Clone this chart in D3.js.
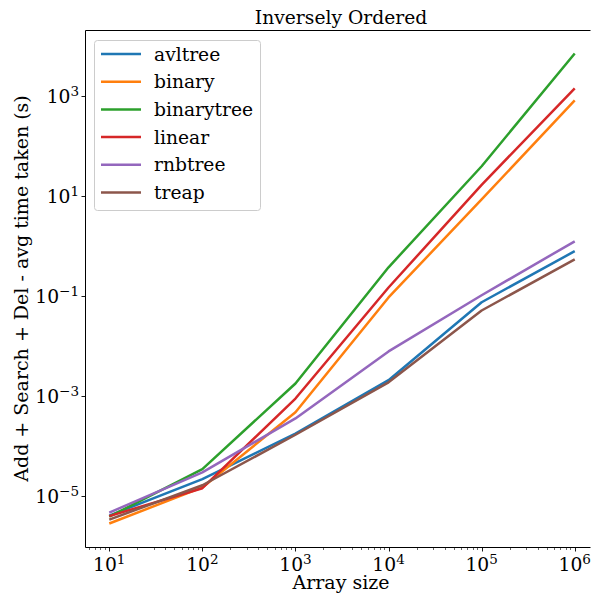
<!DOCTYPE html>
<html>
<head>
<meta charset="utf-8">
<script src="https://cdnjs.cloudflare.com/ajax/libs/d3/7.8.5/d3.min.js"></script>
<style>
  html, body { margin: 0; padding: 0; background: #fff; overflow: hidden; }
  svg { display: block; overflow: hidden; }
  text { font-family: "DejaVu Serif", serif; fill: #000; }
</style>
</head>
<body>
<div id="chart"></div>
<script>
// array sizes on the x axis
var sizes = [10, 100, 1000, 10000, 100000, 1000000];

// avg time taken (s) per structure
var avltree    = [4.1e-6, 2.2e-5, 1.8e-4, 2.1e-3, 0.076, 0.80];
var binary     = [2.85e-6, 1.5e-5, 4.8e-4, 0.095, 8.7, 830];
var binarytree = [3.9e-6, 3.5e-5, 1.8e-3, 0.38, 40, 7200];
var linear     = [4.0e-6, 1.45e-5, 9.0e-4, 0.15, 17, 1450];
var rnbtree    = [4.7e-6, 3.0e-5, 3.6e-4, 7.9e-3, 0.105, 1.26];
var treap      = [3.4e-6, 1.66e-5, 1.7e-4, 1.9e-3, 0.052, 0.55];

var seriesNames = ["avltree", "binary", "binarytree", "linear", "rnbtree", "treap"];
var seriesValues = [avltree, binary, binarytree, linear, rnbtree, treap];
var colors = ["#1f77b4", "#ff7f0e", "#2ca02c", "#d62728", "#9467bd", "#8c564b"];

var yTickValues = [1e-5, 1e-3, 1e-1, 1e1, 1e3];

var W = 591, H = 593;
// plot box (note: "top" is reserved on window, so use other names)
var pLeft = 86, pTop = 30, pRight = 598, pBottom = 547;

var svg = d3.select("#chart")
  .append("svg")
  .attr("width", W)
  .attr("height", H);

// log-space padding, like matplotlib's 5% margins
function padLog(lo, hi) {
  var a = Math.log10(lo), b = Math.log10(hi), m = (b - a) * 0.05;
  return [Math.pow(10, a - m), Math.pow(10, b + m)];
}

var allVals = d3.merge(seriesValues);
var x = d3.scaleLog()
  .domain(padLog(d3.min(sizes), d3.max(sizes)))
  .range([pLeft, pRight]);
var y = d3.scaleLog()
  .domain(padLog(d3.min(allVals), d3.max(allVals)))
  .range([pBottom, pTop]);

// lines
var line = d3.line()
  .x(function(d) { return x(d[0]); })
  .y(function(d) { return y(d[1]); });

var lineData = seriesValues.map(function(vals) {
  return sizes.map(function(s, i) { return [s, vals[i]]; });
});

svg.append("g")
  .selectAll("path")
  .data(lineData)
  .enter()
  .append("path")
  .attr("d", line)
  .attr("fill", "none")
  .attr("stroke", function(d, i) { return colors[i]; })
  .attr("stroke-width", 2.5)
  .attr("stroke-linejoin", "round");

// spines: top, left, bottom (right one is cut off in the original)
var spines = [
  [pLeft, pTop, W, pTop],
  [pLeft, pTop, pLeft, pBottom],
  [pLeft, pBottom, W, pBottom]
];
svg.append("g")
  .selectAll("line")
  .data(spines)
  .enter()
  .append("line")
  .attr("x1", function(d) { return d[0] - 0.5; })
  .attr("y1", function(d) { return d[1] + 0.5; })
  .attr("x2", function(d) { return d[2] - 0.5; })
  .attr("y2", function(d) { return d[3] + 0.5; })
  .attr("stroke", "#000")
  .attr("stroke-width", 1);

function isMajor(v) {
  var l = Math.log10(v);
  return Math.abs(l - Math.round(l)) < 1e-9;
}

function expText(d) {
  return String(Math.round(Math.log10(d))).replace("-", "\u2212");
}

// x ticks
var xTicks = x.ticks().filter(function(v) { return v >= x.domain()[0] && x(v) < W; });
var gx = svg.append("g");
gx.selectAll("line")
  .data(xTicks)
  .enter()
  .append("line")
  .attr("x1", function(d) { return Math.round(x(d)) + 0.5; })
  .attr("x2", function(d) { return Math.round(x(d)) + 0.5; })
  .attr("y1", pBottom + 1)
  .attr("y2", function(d) { return pBottom + 1 + (isMajor(d) ? 3.5 : 2); })
  .attr("stroke", "#000")
  .attr("stroke-width", function(d) { return isMajor(d) ? 0.9 : 0.6; });

var xLabels = gx.selectAll("text")
  .data(xTicks.filter(isMajor))
  .enter()
  .append("text")
  .attr("x", function(d) { return x(d); })
  .attr("y", 571)
  .attr("text-anchor", "middle")
  .style("font-size", "18.7px");
xLabels.append("tspan").text("10");
xLabels.append("tspan")
  .attr("dy", -7.5)
  .style("font-size", "13.5px")
  .text(expText);

// y ticks
var gy = svg.append("g");
gy.selectAll("line")
  .data(yTickValues)
  .enter()
  .append("line")
  .attr("x1", pLeft - 4.5)
  .attr("x2", pLeft - 1)
  .attr("y1", function(d) { return Math.round(y(d)) + 0.5; })
  .attr("y2", function(d) { return Math.round(y(d)) + 0.5; })
  .attr("stroke", "#000")
  .attr("stroke-width", 0.9);

var yLabels = gy.selectAll("text")
  .data(yTickValues)
  .enter()
  .append("text")
  .attr("x", pLeft - 7)
  .attr("y", function(d) { return y(d) + 7; })
  .attr("text-anchor", "end")
  .style("font-size", "18.7px");
yLabels.append("tspan").text("10");
yLabels.append("tspan")
  .attr("dy", -7.5)
  .style("font-size", "13.5px")
  .text(expText);

// title and axis labels
svg.append("text")
  .attr("x", 341)
  .attr("y", 24)
  .attr("text-anchor", "middle")
  .style("font-size", "18.7px")
  .text("Inversely Ordered");

svg.append("text")
  .attr("x", 341)
  .attr("y", 589)
  .attr("text-anchor", "middle")
  .style("font-size", "19px")
  .text("Array size");

svg.append("text")
  .attr("transform", "translate(28," + ((pTop + pBottom) / 2) + ") rotate(-90)")
  .attr("text-anchor", "middle")
  .style("font-size", "19px")
  .text("Add + Search + Del - avg time taken (s)");

// legend
var legend = svg.append("g").attr("transform", "translate(94,40)");
legend.append("rect")
  .attr("x", 0.5)
  .attr("y", 0.5)
  .attr("width", 166)
  .attr("height", 170)
  .attr("rx", 3)
  .attr("fill", "#fff")
  .attr("fill-opacity", 0.8)
  .attr("stroke", "#ccc");

var rows = legend.selectAll("g.row")
  .data(seriesNames)
  .enter()
  .append("g")
  .attr("class", "row")
  .attr("transform", function(d, i) { return "translate(0," + (14 + i * 27.7) + ")"; });

rows.append("line")
  .attr("x1", 7)
  .attr("x2", 47)
  .attr("stroke", function(d, i) { return colors[i]; })
  .attr("stroke-width", 2.5);

rows.append("text")
  .attr("x", 60)
  .attr("y", 6.5)
  .style("font-size", "18.7px")
  .text(function(d) { return d; });
</script>
</body>
</html>
